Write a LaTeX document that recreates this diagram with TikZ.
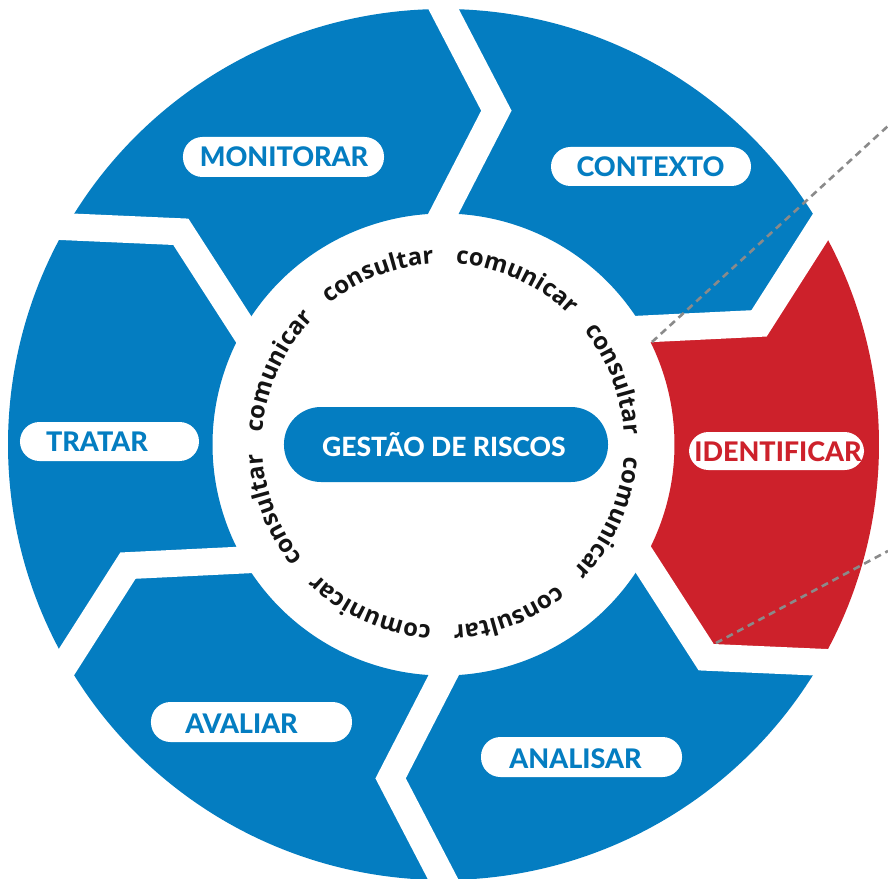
\documentclass[tikz,border=0pt]{standalone}
\usepackage{fontspec}
\usetikzlibrary{decorations.text}
\newfontfamily\labfont{Lato}[UprightFont={* Heavy}]
\newfontfamily\ringfont{Open Sans}
\definecolor{segblue}{RGB}{4,125,193}
\definecolor{segred}{RGB}{205,33,43}
\definecolor{dashgray}{RGB}{138,138,138}
\definecolor{ringink}{RGB}{20,20,20}
\begin{document}
\begin{tikzpicture}[x=1pt,y=1pt,
  gapband/.style={draw=white, line width=27pt, line join=miter, miter limit=10, shorten <=-30pt, shorten >=-30pt},
  pill/.style={fill=white, draw=none, inner sep=0pt, rounded corners=19.5pt},
  lab/.style={font=\labfont\fontsize{27}{27}\selectfont, text=segblue, inner sep=0pt, anchor=base},
  ringtext/.style={decorate, decoration={text along path, text align=center, text={|\ringfont\bfseries\fontsize{24}{24}\selectfont\color{ringink}|#1}}},
  dashline/.style={draw=dashgray, line width=2.6pt, dash pattern=on 7pt off 5pt}
]
\useasboundingbox (-443.5,-433.5) rectangle (444.5,444.5);

% segments
\foreach \a/\c in {90/segblue,30/segred,-30/segblue,-90/segblue,-150/segblue,150/segblue} {
  \pgfmathsetmacro\b{\a-60}
  \fill[\c] (\a:435.5) arc[start angle=\a, end angle=\b, radius=435.5]
     -- ({\b-9}:338) -- (\b:231) arc[start angle=\b, end angle=\a, radius=231]
     -- ({\a-9}:338) -- cycle;
}
% white gaps
\foreach \a in {90,30,-30,-90,-150,150} {
  \draw[gapband] (\a:435.5) -- ({\a-9}:338) -- (\a:231);
}

% pills
\node[pill, minimum width=201pt, minimum height=40pt] (pmon) at (-160,287.5) {};
\node[pill, minimum width=200pt, minimum height=39pt] (pcon) at (207.5,278) {};
\node[pill, minimum width=175pt, minimum height=38pt] (pide) at (333,-6.5) {};
\node[pill, minimum width=179pt, minimum height=39pt] (ptra) at (-334,3) {};
\node[pill, minimum width=201pt, minimum height=40pt] (pava) at (-192,-277.5) {};
\node[pill, minimum width=201pt, minimum height=40pt] (pana) at (138,-312.5) {};
\node[pill, fill=segblue, rounded corners=37pt, minimum width=324pt, minimum height=75pt] (pges) at (2.5,0) {};

% labels
\node[lab] (tmon) at (-159.5,277.5) {MONITORAR};
\node[lab] (tcon) at (207,267.5) {CONTEXTO};
\node[lab, text=segred] (tide) at (334.5,-16.5) {IDENTIFICAR};
\node[lab] (ttra) at (-346.5,-6.5) {TRATAR};
\node[lab] (tava) at (-202,-288.5) {AVALIAR};
\node[lab] (tana) at (132,-323.5) {ANALISAR};
\node[lab, text=white, font=\labfont\fontsize{26.5}{26.5}\selectfont] (tges) at (0.5,-11.5) {GESTÃO DE RISCOS};

% ring text
\path[ringtext=comunicar] (186:181) arc[start angle=186, end angle=126, radius=181];
\path[ringtext=consultar] (141:181) arc[start angle=141, end angle=81, radius=181];
\path[ringtext=comunicar] (96:181) arc[start angle=96, end angle=36, radius=181];
\path[ringtext=consultar] (51:181) arc[start angle=51, end angle=-9, radius=181];
\path[ringtext=comunicar] (6:181) arc[start angle=6, end angle=-54, radius=181];
\path[ringtext=consultar] (-39:181) arc[start angle=-39, end angle=-99, radius=181];
\path[ringtext=comunicar] (-84:181) arc[start angle=-84, end angle=-144, radius=181];
\path[ringtext=consultar] (-129:181) arc[start angle=-129, end angle=-189, radius=181];

% dashed lines
\coordinate (d1a) at (208.5,102.5);
\coordinate (d1b) at (444.5,318.5);
\coordinate (d2a) at (272.5,-198.5);
\coordinate (d2b) at (444.5,-106.5);
\draw[dashline] (d1a) -- (d1b);
\draw[dashline] (d2a) -- (d2b);
\end{tikzpicture}
\end{document}
